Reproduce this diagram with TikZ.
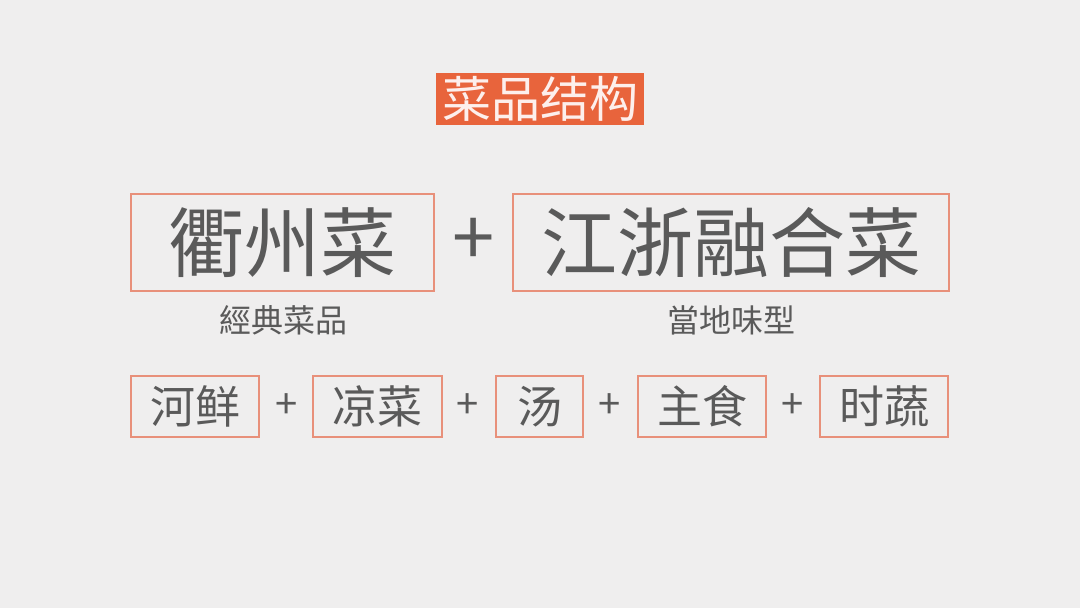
\documentclass[tikz,border=0pt]{standalone}
\usepackage{fontspec}
\setmainfont{Noto Sans CJK SC}
\newfontfamily\cjk{Noto Sans CJK SC}
\definecolor{bgc}{HTML}{EFEEEE}
\definecolor{boxc}{HTML}{E8907A}
\definecolor{titlec}{HTML}{E8643C}
\definecolor{txtc}{HTML}{5A5A5A}
\tikzset{
  bigbox/.style={draw=boxc, line width=1.5pt, inner sep=0pt, minimum height=97pt, text=txtc, font=\cjk\fontsize{76}{76}\selectfont},
  smallbox/.style={draw=boxc, line width=1.5pt, inner sep=0pt, minimum height=61pt, text=txtc, font=\cjk\fontsize{45}{45}\selectfont},
  subtxt/.style={text=txtc, inner sep=0pt, font=\cjk\fontsize{32}{32}\selectfont},
  plusbig/.style={text=txtc, inner sep=0pt, font=\cjk\fontsize{76}{76}\selectfont},
  plussmall/.style={text=txtc, inner sep=0pt, font=\cjk\fontsize{40}{40}\selectfont},
}
\begin{document}
\begin{tikzpicture}[x=1pt,y=-1pt]
\fill[bgc] (0,0) rectangle (1080,608);
\useasboundingbox (0,0) rectangle (1080,608);
\node[fill=titlec, text=white!90!titlec, minimum width=208pt, minimum height=52pt, inner sep=0pt, font=\cjk\fontsize{49}{49}\selectfont] (title) at (540,99) {菜品结构};
\node[bigbox, minimum width=303pt] (b1) at (282.5,242.5) {衢州菜};
\node[bigbox, minimum width=436pt] (b2) at (731,242.5) {江浙融合菜};
\node[plusbig] (p0) at (474,242) {+};
\node[subtxt] (s1) at (283,320) {經典菜品};
\node[subtxt] (s2) at (731,320) {當地味型};
\node[smallbox, minimum width=128pt] (r1) at (195,406.5) {河鲜};
\node[smallbox, minimum width=129pt] (r2) at (377.5,406.5) {凉菜};
\node[smallbox, minimum width=87pt] (r3) at (539.5,406.5) {汤};
\node[smallbox, minimum width=128pt] (r4) at (702,406.5) {主食};
\node[smallbox, minimum width=128pt] (r5) at (884,406.5) {时蔬};
\node[plussmall] (p1) at (287,406) {+};
\node[plussmall] (p2) at (468,406) {+};
\node[plussmall] (p3) at (610,406) {+};
\node[plussmall] (p4) at (793,406) {+};
\end{tikzpicture}
\end{document}
